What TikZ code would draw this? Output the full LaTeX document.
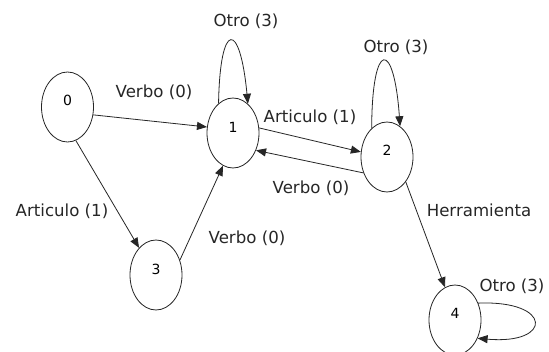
\documentclass[tikz,border=0pt]{standalone}
\usepackage{fontspec}
\setmainfont{DejaVu Sans}
\usetikzlibrary{arrows.meta,shapes.geometric}
\begin{document}
\begin{tikzpicture}[x=1pt,y=-1pt,
  state/.style={draw=black!85, ellipse, minimum width=52pt, minimum height=70pt, inner sep=0pt, line width=0.8pt},
  lbl/.style={font=\fontsize{16.6}{18}\selectfont, inner sep=0pt, text=black!85},
  arr/.style={line width=0.8pt, draw=black!85, -{Triangle[length=10pt,width=8pt]}},
  every label/.style={font=\fontsize{14}{16}\selectfont, inner sep=0pt}]
\useasboundingbox (0,0) rectangle (549,352);
\fill[white] (0,0) rectangle (549,352);
\node[state, label={[yshift=7pt]center:0}] (n0) at (67.5,107) {};
\node[state, label={[yshift=6pt]center:1}] (n1) at (233,133) {};
\node[state, label={[yshift=7pt]center:2}] (n2) at (387,157) {};
\node[state, label={[yshift=6pt]center:3}] (n3) at (156,275) {};
\node[state, label={[yshift=7pt]center:4}] (n4) at (455,320) {};

\draw[arr] (n0.-17) -- (n1.167);
\draw[arr] (n1.11) -- (n2.169);
\draw[arr] (n2.214) -- (n1.-37);
\draw[arr] (n0.-76) -- (n3.122);
\draw[arr] (n3.32) -- (n1.253);
\draw[arr] (n2.-53) -- (n4.107);
\draw[arr] (n1.116) .. controls (220,20) and (240,20) .. (n1.63);
\draw[arr] (n2.118) .. controls (372,39) and (394,39) .. (n2.67);
\draw[arr] (n4.36) .. controls (553,300) and (553,345) .. (n4.-39);

\node[lbl] (t01) at (154,92) {Verbo (0)};
\node[lbl] (t11) at (246,21) {Otro (3)};
\node[lbl] (t12) at (310,117) {Articulo (1)};
\node[lbl] (t21) at (311,188) {Verbo (0)};
\node[lbl] (t22) at (396,47) {Otro (3)};
\node[lbl] (t03) at (62,211) {Articulo (1)};
\node[lbl] (t31) at (247,238) {Verbo (0)};
\node[lbl] (t24) at (479,210) {Herramienta};
\node[lbl] (t44) at (512,286) {Otro (3)};
\end{tikzpicture}
\end{document}
